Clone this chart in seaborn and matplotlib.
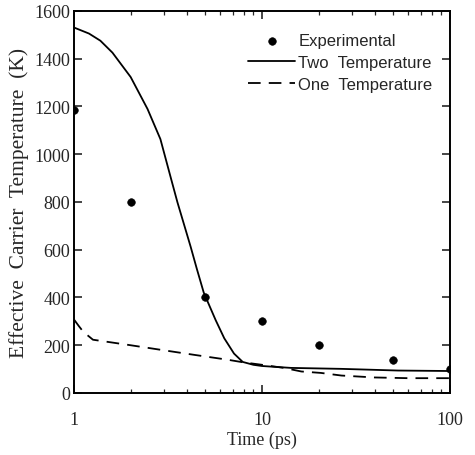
import numpy as np
import pandas as pd
import seaborn as sns
import matplotlib.pyplot as plt
from matplotlib.ticker import FixedLocator, LogLocator, NullFormatter, FixedFormatter

# experimental points
exp_time = [1, 2, 5, 10, 20, 50, 100]
exp_temp = [1185, 800, 400, 300, 200, 140, 100]

# two temperature model
two_time = [1, 1.2, 1.38, 1.6, 2, 2.46, 2.88, 3.3, 3.55, 3.9, 4.17, 4.5, 4.9,
            5.67, 6.3, 7.1, 7.9, 9, 10, 14.3, 26.5, 53, 100]
two_temp = [1530, 1505, 1475, 1425, 1323, 1189, 1063, 890, 798, 690, 613, 520, 420,
            305, 229, 165, 130, 118, 113, 105, 101, 94, 92]

# one temperature model
one_time = [1, 1.06, 1.12, 1.26, 1.92, 2.88, 4.33, 6.6, 8, 10, 13.1, 16.2, 20.6,
            26.5, 39.7, 60, 100]
one_temp = [307, 280, 256, 223, 202, 181, 160, 139, 128, 118, 105, 90, 84,
            73, 65, 62, 62]

yticks = [0, 200, 400, 600, 800, 1000, 1200, 1400, 1600]
xticks = [1, 10, 100]
xtick_labels = ["1", "10", "100"]

df_exp = pd.DataFrame({"time": exp_time, "temp": exp_temp})
df_two = pd.DataFrame({"time": two_time, "temp": two_temp})
df_one = pd.DataFrame({"time": one_time, "temp": one_temp})

sns.set_style("ticks")
plt.rcParams["font.family"] = ["Liberation Serif", "DejaVu Serif"]

fig = plt.figure(figsize=(4.75, 4.56), dpi=100)
ax = fig.add_axes([0.156, 0.136, 0.791, 0.838])

sns.lineplot(data=df_two, x="time", y="temp", ax=ax, color="black", lw=1.3,
             label="Two  Temperature", sort=False)
sns.lineplot(data=df_one, x="time", y="temp", ax=ax, color="black", lw=1.3,
             linestyle=(0, (7, 4.5)), label="One  Temperature", sort=False)
sns.scatterplot(data=df_exp, x="time", y="temp", ax=ax, color="black", s=30,
                edgecolor="black", label="Experimental", zorder=5)

ax.set_xscale("log")
ax.set_xlim(1, 100)
ax.set_ylim(0, 1600)
ax.xaxis.set_major_locator(FixedLocator(xticks))
ax.xaxis.set_major_formatter(FixedFormatter(xtick_labels))
ax.xaxis.set_minor_locator(LogLocator(base=10, subs=np.arange(2, 10)))
ax.xaxis.set_minor_formatter(NullFormatter())
ax.set_yticks(yticks)

for s in ax.spines.values():
    s.set_linewidth(1.4)
    s.set_color("black")
ax.tick_params(which="major", direction="in", length=6, width=1.2,
               top=True, right=True, labelsize=13)
ax.tick_params(which="minor", direction="in", length=3, width=0.9,
               top=True, right=True)
ax.tick_params(axis="x", which="major", pad=13)
ax.tick_params(axis="y", which="major", pad=3)

ax.set_xlabel("Time (ps)", fontsize=13, labelpad=2)
ax.set_ylabel("Effective  Carrier  Temperature  (K)", fontsize=15.5, labelpad=4)

h, l = ax.get_legend_handles_labels()
order = [2, 0, 1]
ax.legend([h[i] for i in order], [l[i] for i in order], loc="upper right",
          bbox_to_anchor=(0.985, 0.972), frameon=False, handlelength=2.8,
          handletextpad=0.2, labelspacing=0.4, borderaxespad=0.3,
          prop={"family": "Liberation Sans", "size": 12})

fig.savefig("out.png", dpi=100)
